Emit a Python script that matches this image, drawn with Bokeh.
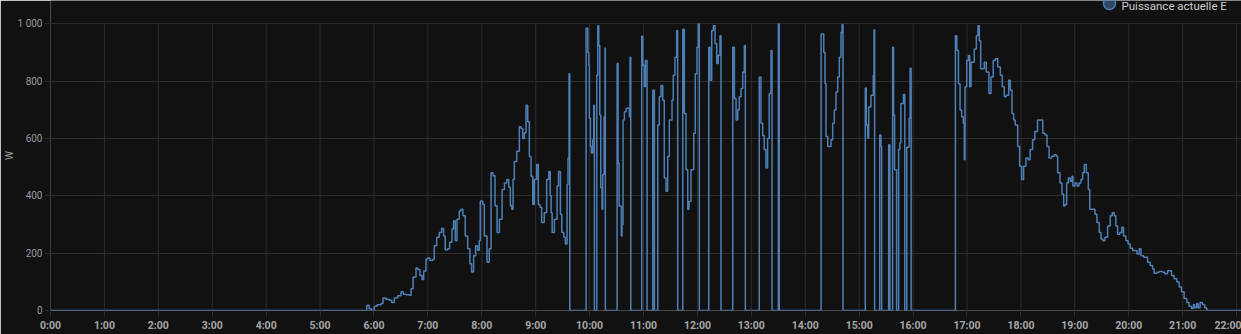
from bokeh.plotting import figure
from bokeh.models import FixedTicker, Range1d, Legend, LegendItem, Label
from bokeh.embed import file_html
from bokeh.resources import INLINE

# ---- data (minutes since midnight, watts) ----
times_min = [
    0, 352.0, 354.6, 357.6, 360.4, 363.4, 367.9, 370.1, 373.4, 376.8, 379.8, 382.6, 386.4,
    390.1, 392.6, 395.7, 399.4, 401.3, 403.5, 406.8, 408.7, 411.2, 413.5, 415.3, 417.9,
    419.8, 422.3, 425.3, 427.1, 429.8, 432.7, 435.3, 437.5, 439.3, 442.0, 444.2, 446.8,
    448.6, 450.5, 452.4, 454.9, 456.8, 459.0, 461.6, 464.3, 466.8, 468.7, 470.9, 473.1,
    475.3, 477.2, 478.3, 481.0, 482.8, 485.8, 488.3, 490.3, 492.5, 494.7, 497.0, 499.6,
    502.6, 505.2, 507.8, 510.0, 511.8, 513.4, 514.8, 516.2, 518.9, 521.8, 523.7, 525.6,
    527.4, 529.2, 531.1, 532.9, 534.8, 536.7, 538.4, 541.1, 542.9, 544.8, 546.6, 549.5,
    552.2, 554.6, 556.1, 557.2, 558.3, 560.8, 563.8, 565.4, 567.5, 569.0, 571.3, 573.0,
    574.9, 576.0, 577.1, 577.9,
    596.1, 598.0, 599.1, 599.7, 600.9, 602.0, 603.5, 604.6, 605.3,
    608.0, 609.1, 610.2, 611.3, 612.4, 613.8, 614.6, 616.1, 617.2, 617.5,
    630.6, 631.7, 632.8, 635.3, 636.1, 637.2, 638.7, 640.6, 644.2, 645.0, 645.8,
    658.0, 659.1, 660.9, 662.0, 663.9,
    670.3, 672.1,
    675.8, 677.6, 679.5, 681.4, 683.1, 685.0, 686.9, 688.7, 691.7, 693.1, 695.0, 696.9, 698.0,
    703.7, 705.4, 707.3, 709.2, 710.6, 712.8, 715.9, 717.6, 719.5, 721.0, 722.1,
    732.6, 734.0, 735.9, 737.7, 739.6, 741.5, 743.2, 745.1, 746.2,
    759.3, 761.1, 763.0, 764.9, 766.6, 768.5, 770.4, 772.2, 773.3,
    788.8, 790.7, 792.6, 794.3, 796.2, 798.1, 799.9, 801.9, 803.0,
    810.0, 811.1,
    857.6, 860.6, 862.0, 863.1, 865.0, 868.7, 870.5, 872.3, 874.2, 876.1, 877.9, 879.8, 880.9, 882.0,
    906.8, 907.9, 909.5, 910.6, 913.1, 915.7, 916.5, 917.2,
    922.8, 924.2, 925.0,
    932.8, 934.2,
    937.2, 938.3, 939.4, 941.6,
    943.9, 945.3, 946.4, 949.3, 950.8,
    953.0, 955.6, 956.7, 957.8,
    1007.1, 1008.7, 1010.5, 1012.3, 1014.1, 1015.9, 1017.0, 1017.8, 1019.7, 1021.5, 1023.0,
    1024.5, 1028.1, 1030.4, 1032.2, 1033.7, 1035.2, 1037.4, 1039.2, 1041.4, 1044.4, 1046.7,
    1049.2, 1051.5, 1054.2, 1057.1, 1059.3, 1061.5, 1063.7, 1066.4, 1068.2, 1070.1, 1071.9,
    1073.7, 1076.4, 1078.6, 1080.8, 1083.0, 1085.6, 1088.1, 1090.3, 1093.0, 1095.5, 1098.5,
    1101.5, 1104.3, 1106.8, 1109.0, 1111.3, 1114.3, 1117.1, 1119.4, 1120.9, 1123.5, 1125.7,
    1127.6, 1129.0, 1130.9, 1132.7, 1134.9, 1136.8, 1137.9, 1140.1, 1142.4, 1144.6, 1146.8,
    1148.7, 1150.5, 1152.8, 1155.0, 1156.6, 1159.9, 1162.4, 1164.6, 1167.2, 1169.1, 1171.3,
    1173.5, 1176.5, 1179.4, 1181.6, 1183.8, 1185.7, 1187.6, 1190.1, 1192.3, 1194.2, 1196.8,
    1199.3, 1201.7, 1204.4, 1206.2, 1209.2, 1211.7, 1213.6, 1216.6, 1219.1, 1221.0, 1223.9,
    1226.6, 1228.3, 1231.3, 1233.9, 1237.7, 1240.2, 1243.2, 1245.4, 1247.6, 1250.5, 1253.5,
    1256.1, 1258.7, 1261.6, 1264.6, 1267.1, 1269.8, 1272.0, 1273.4, 1275.7, 1277.2, 1279.4,
    1282.0, 1284.6, 1286.8, 1325.5,
]
watts = [
    0, 18, 5, 0, 15, 20, 24, 44, 39, 36, 28, 44, 51,
    65, 57, 55, 53, 76, 117, 148, 143, 122, 108, 138, 180,
    183, 174, 178, 226, 255, 272, 286, 260, 212, 215, 238, 284,
    313, 243, 318, 347, 353, 330, 260, 215, 163, 134, 191, 226,
    210, 243, 382, 370, 260, 168, 215, 480, 470, 365, 272, 318,
    422, 445, 457, 430, 365, 353, 457, 520, 555, 641, 635, 600,
    620, 716, 658, 537, 468, 370, 457, 509, 370, 360, 307, 341,
    457, 485, 400, 341, 272, 318, 434, 485, 336, 272, 255, 232,
    439, 532, 826, 0,
    984, 900, 855, 670, 572, 549, 595, 716, 0,
    820, 993, 924, 682, 428, 353, 474, 676, 915, 0,
    861, 514, 364, 260, 300, 664, 693, 705, 676, 883, 0,
    956, 855, 780, 872, 0,
    768, 0,
    647, 745, 785, 733, 462, 416, 537, 664, 733, 820, 883, 976, 0,
    981, 687, 491, 353, 380, 491, 618, 826, 918, 999, 0,
    918, 803, 976, 993, 930, 861, 890, 958, 0,
    918, 739, 664, 700, 745, 774, 832, 924, 0,
    814, 653, 610, 561, 497, 600, 757, 907, 0,
    999, 0,
    964, 900, 791, 607, 572, 595, 653, 699, 762, 814, 883, 970, 997, 0,
    776, 647, 601, 710, 751, 820, 979, 0,
    612, 572, 0,
    578, 0,
    918, 682, 491, 0,
    561, 584, 722, 753, 0,
    569, 670, 845, 0,
    958, 907, 791, 699, 676, 653, 526, 780, 872, 889, 780,
    866, 912, 958, 993, 941, 843, 843, 866, 832, 757, 814,
    872, 878, 849, 820, 780, 745, 751, 803, 768, 687, 664,
    647, 572, 503, 457, 503, 532, 526, 561, 595, 624, 664,
    664, 618, 612, 572, 532, 538, 543, 538, 480, 445, 405,
    364, 370, 445, 462, 451, 468, 434, 445, 434, 445, 457,
    480, 509, 480, 422, 353, 353, 336, 307, 272, 249, 243,
    255, 295, 330, 341, 330, 295, 266, 272, 290, 260, 243,
    232, 217, 209, 209, 197, 215, 191, 186, 186, 168, 157,
    145, 130, 133, 136, 133, 128, 139, 139, 122, 111, 99,
    82, 65, 42, 28, 15, 7, 21, 10, 24, 10, 28,
    21, 10, 0, 0,
]
series_name = "Puissance actuelle E"
hour_ticks = list(range(0, 23))
hour_labels = ["0:00", "1:00", "2:00", "3:00", "4:00", "5:00", "6:00", "7:00", "8:00",
               "9:00", "10:00", "11:00", "12:00", "13:00", "14:00", "15:00", "16:00",
               "17:00", "18:00", "19:00", "20:00", "21:00", "22:00"]
y_ticks = [0, 200, 400, 600, 800, 1000]
y_labels = ["0", "200", "400", "600", "800", "1 000"]
y_unit = "W"

BG = "#111111"
GRID = "#2c2c2c"
LINE = "#4d7fb5"

tick_minutes = [h * 60 for h in hour_ticks]

p = figure(width=1241, height=334, output_backend="svg", toolbar_location=None,
           x_range=Range1d(0, 1325.5), y_range=Range1d(0, 1081),
           background_fill_color=BG, border_fill_color=BG, outline_line_color=None,
           min_border_left=49, min_border_right=0, min_border_top=0, min_border_bottom=22)

# vertical grid lines (limited to the value range)
p.segment(x0=tick_minutes, y0=[0] * len(tick_minutes), x1=tick_minutes,
          y1=[max(y_ticks)] * len(tick_minutes), line_color=GRID, line_width=1)
p.xgrid.visible = False
p.ygrid.ticker = FixedTicker(ticks=y_ticks)
p.ygrid.grid_line_color = GRID

p.step(x=times_min, y=watts, mode="after", line_color=LINE, line_width=1.5)

# x axis
xa = p.xaxis[0]
xa.ticker = FixedTicker(ticks=tick_minutes)
xa.major_label_overrides = {m: l for m, l in zip(tick_minutes, hour_labels)}
xa.axis_line_color = None
xa.major_tick_out = 6
xa.major_tick_in = 0
xa.major_tick_line_color = GRID
xa.minor_tick_line_color = None
xa.major_label_standoff = 2
xa.major_label_text_font = "Roboto"
xa.major_label_text_font_size = "10.5px"
xa.major_label_text_font_style = "bold"
xa.major_label_text_color = "#a8a8a8"

# y axis
ya = p.yaxis[0]
ya.ticker = FixedTicker(ticks=y_ticks)
ya.major_label_overrides = {t: l for t, l in zip(y_ticks, y_labels)}
ya.bounds = (0, 1000)
ya.axis_line_color = None
ya.major_tick_out = 6
ya.major_tick_in = 0
ya.major_tick_line_color = GRID
ya.minor_tick_line_color = None
ya.major_label_standoff = 2
ya.major_label_text_font = "Roboto"
ya.major_label_text_font_size = "10px"
ya.major_label_text_color = "#9a9a9a"
ya.axis_label = y_unit
ya.axis_label_standoff = 0
ya.axis_label_text_font = "Roboto"
ya.axis_label_text_font_size = "10px"
ya.axis_label_text_font_style = "normal"
ya.axis_label_text_color = "#9a9a9a"

# legend: circle handle from a legend, name as a label next to it
handle = p.scatter(x=[times_min[0]], y=[-500], marker="circle", size=12,
                   fill_color=LINE, fill_alpha=0.5, line_color=LINE, line_width=1.5)
legend = Legend(items=[LegendItem(label="", renderers=[handle])],
                location=(1044, 292), padding=0, margin=0, spacing=0,
                glyph_width=30, glyph_height=30, label_standoff=0,
                label_text_font_size="1px", label_width=1,
                background_fill_alpha=0, border_line_alpha=0)
p.add_layout(legend)
p.add_layout(Label(x=1071, y=305, x_units="screen", y_units="screen", text=series_name,
                   text_font="Roboto", text_font_size="11.5px", text_color="#cccccc",
                   text_baseline="middle", text_align="left"))

open("out.html", "w").write(file_html(p, INLINE))
